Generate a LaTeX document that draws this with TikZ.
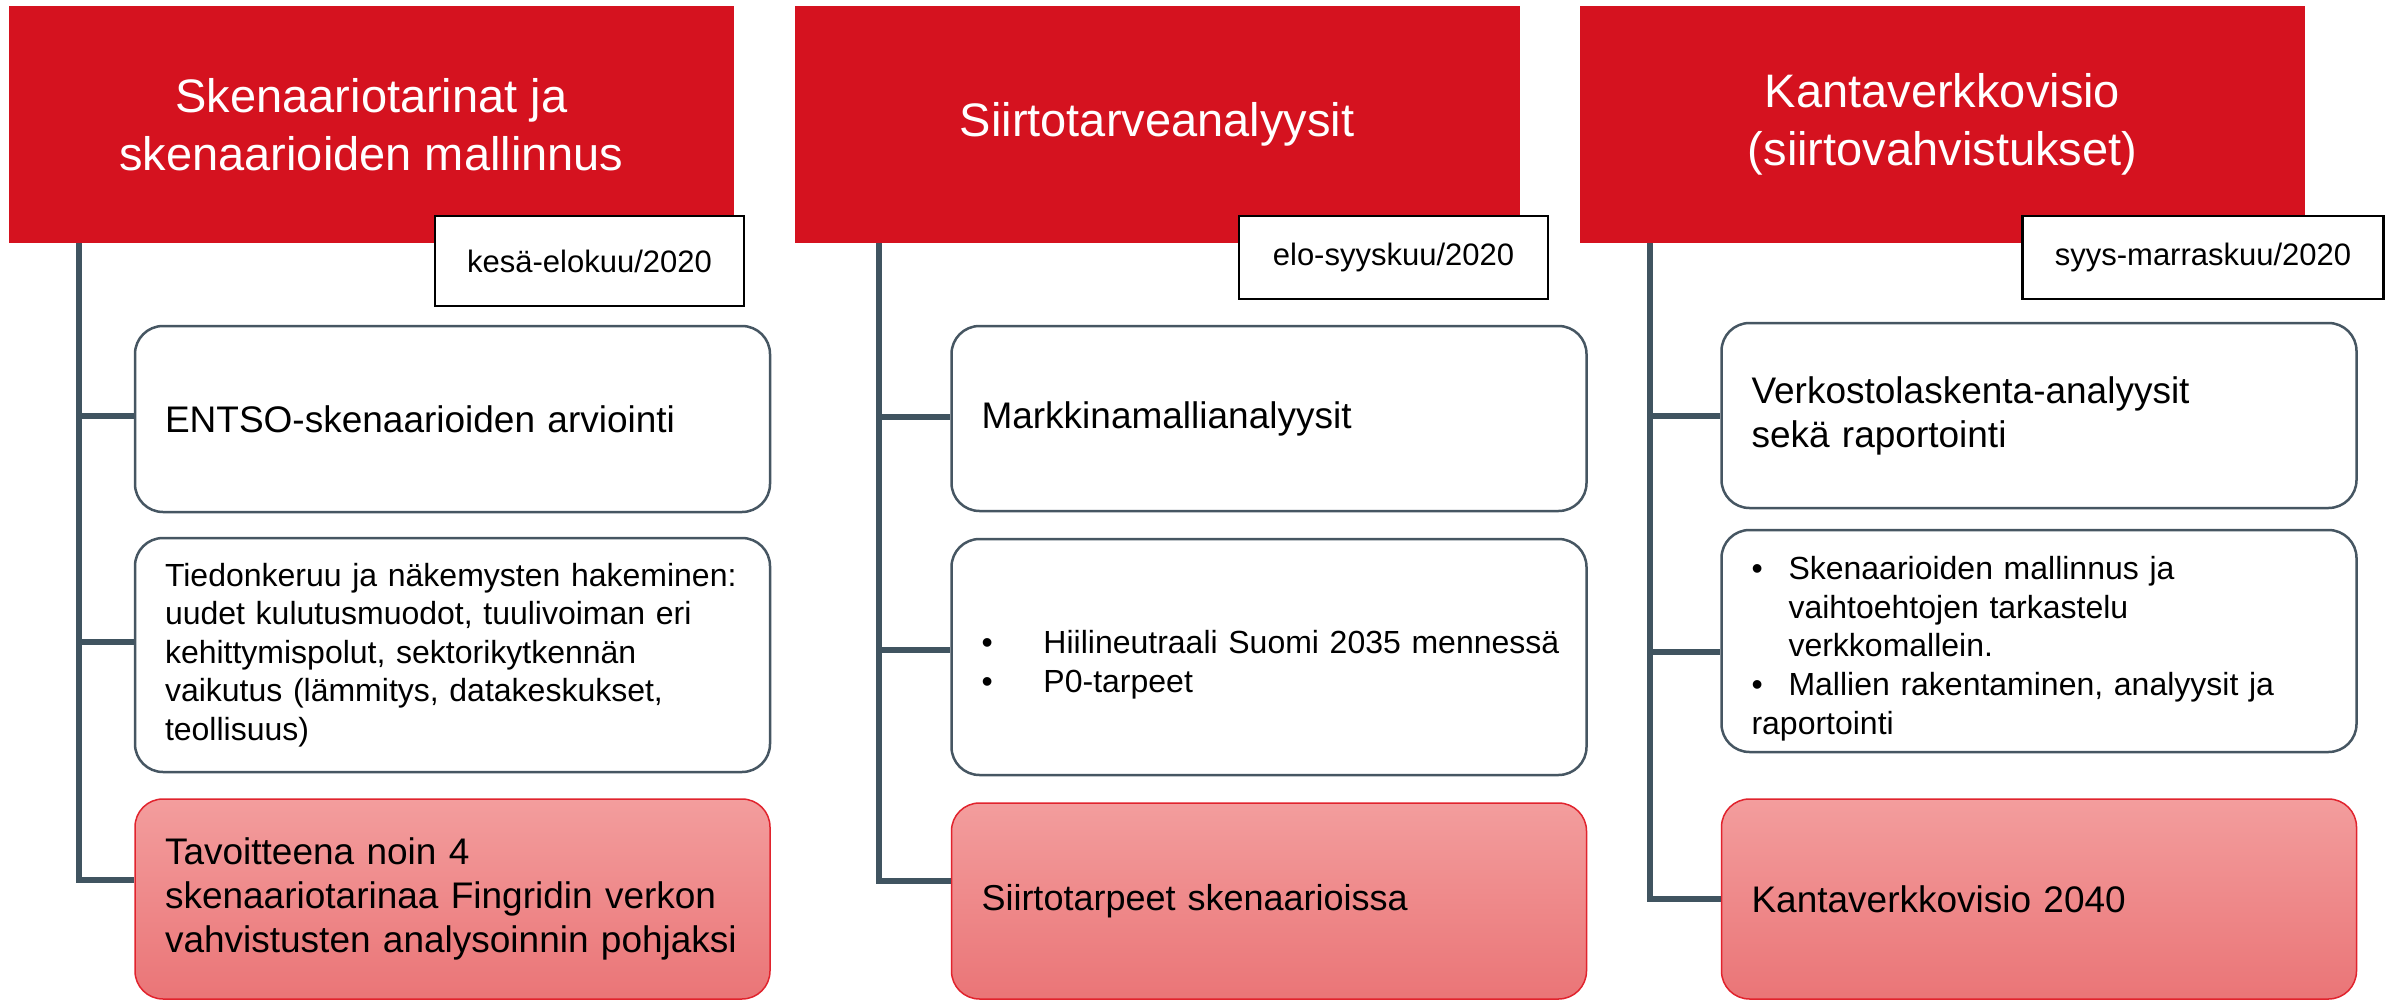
\documentclass[tikz,border=0pt]{standalone}
\usepackage{fontspec}
\setmainfont{Liberation Sans}
\definecolor{fingridred}{RGB}{213,18,31}
\definecolor{boxline}{RGB}{70,86,98}
\definecolor{trunkcol}{RGB}{64,84,96}
\definecolor{goaltop}{RGB}{243,157,157}
\definecolor{goalbot}{RGB}{234,117,119}
\definecolor{goalline}{RGB}{225,35,45}
\newcommand\bul[2]{\par\noindent\hangindent=#1\hangafter=1\makebox[#1][l]{•}#2}
\begin{document}
\begin{tikzpicture}[x=1pt,y=-1pt,
  hdr/.style={fill=fingridred,text=white,minimum width=725pt,minimum height=237pt,inner sep=0pt,align=center,font=\fontsize{47}{58}\selectfont},
  datebox/.style={draw=black,line width=2.5pt,fill=white,inner sep=0pt,font=\fontsize{31}{37}\selectfont},
  stepbox/.style={draw=boxline,line width=2.5pt,rounded corners=28pt,fill=white,text width=575pt,inner xsep=30pt,inner ysep=0pt,align=left,font=\fontsize{37}{44}\selectfont},
  goalbox/.style={stepbox,draw=goalline,line width=1.5pt,top color=goaltop,bottom color=goalbot},
  small/.style={font=\fontsize{32}{38.6}\selectfont},
  trunk/.style={draw=trunkcol,line width=6pt}]
\useasboundingbox (0,0) rectangle (2386,1001);

% headers
\node[hdr] (h1) at (371.5,124.5) {Skenaariotarinat ja\\skenaarioiden mallinnus};
\node[hdr] (h2) at (1157,124.5) {Siirtotarveanalyysit};
\node[hdr] (h3) at (1942.5,124.5) {Kantaverkkovisio\\(siirtovahvistukset)};

% date boxes
\node[datebox,minimum width=309pt,minimum height=90pt] (d1) at (589.5,261) {kesä-elokuu/2020};
\node[datebox,minimum width=309pt,minimum height=83pt] (d2) at (1393.5,257.5) {elo-syyskuu/2020};
\node[datebox,minimum width=361pt,minimum height=83pt] (d3) at (2203,257.5) {syys-marraskuu/2020};

% column 1
\node[stepbox,minimum height=186pt] (b11) at (452.5,419) {ENTSO-skenaarioiden arviointi};
\node[stepbox,small,minimum height=234pt] (b12) at (452.5,655) {Tiedonkeruu ja näkemysten hakeminen:\\uudet kulutusmuodot, tuulivoiman eri\\kehittymispolut, sektorikytkennän\\vaikutus (lämmitys, datakeskukset,\\teollisuus)};
\node[goalbox,minimum height=200pt] (b13) at (452.5,899) {Tavoitteena noin 4\\skenaariotarinaa Fingridin verkon\\vahvistusten analysoinnin pohjaksi};

% column 2
\node[stepbox,minimum height=185pt] (b21) at (1269,418.5) {Markkinamallianalyysit};
\node[stepbox,small,minimum height=236pt] (b22) at (1269,657) {\bul{62pt}{\mbox{Hiilineutraali Suomi 2035 mennessä}}\bul{62pt}{P0-tarpeet}};
\node[goalbox,font=\fontsize{36}{43}\selectfont,minimum height=196pt] (b23) at (1269,901) {Siirtotarpeet skenaarioissa};

% column 3
\node[stepbox,minimum height=185pt] (b31) at (2039,415.5) {Verkostolaskenta-analyysit\\sekä raportointi};
\node[stepbox,small,minimum height=222pt] (b32) at (2039,641) {\bul{37pt}{Skenaarioiden mallinnus ja\newline vaihtoehtojen tarkastelu\newline verkkomallein.}\bul{37pt}{Mallien rakentaminen, analyysit ja\newline raportointi}};
\node[goalbox,minimum height=200pt] (b33) at (2039,899) {Kantaverkkovisio 2040};

% trunks and branches
\coordinate (t1) at ([xshift=70pt]h1.south west);
\coordinate (t2) at ([xshift=85pt]h2.south west);
\coordinate (t3) at ([xshift=70pt]h3.south west);
\coordinate (c11) at ([yshift=3pt]b11.west);
\coordinate (c12) at ([yshift=13pt]b12.west);
\coordinate (c13) at ([yshift=19pt]b13.west);
\coordinate (c21) at ([yshift=2pt]b21.west);
\coordinate (c22) at ([yshift=7pt]b22.west);
\coordinate (c23) at ([yshift=20pt]b23.west);
\coordinate (c31) at (b31.west);
\coordinate (c32) at ([yshift=-11pt]b32.west);
\coordinate (c33) at (b33.west);

\draw[trunk] (t1) |- (c13);
\draw[trunk] (t1 |- c11) -- (c11);
\draw[trunk] (t1 |- c12) -- (c12);
\draw[trunk] (t2) |- (c23);
\draw[trunk] (t2 |- c21) -- (c21);
\draw[trunk] (t2 |- c22) -- (c22);
\draw[trunk] (t3) |- (c33);
\draw[trunk] (t3 |- c31) -- (c31);
\draw[trunk] (t3 |- c32) -- (c32);
\end{tikzpicture}
\end{document}
